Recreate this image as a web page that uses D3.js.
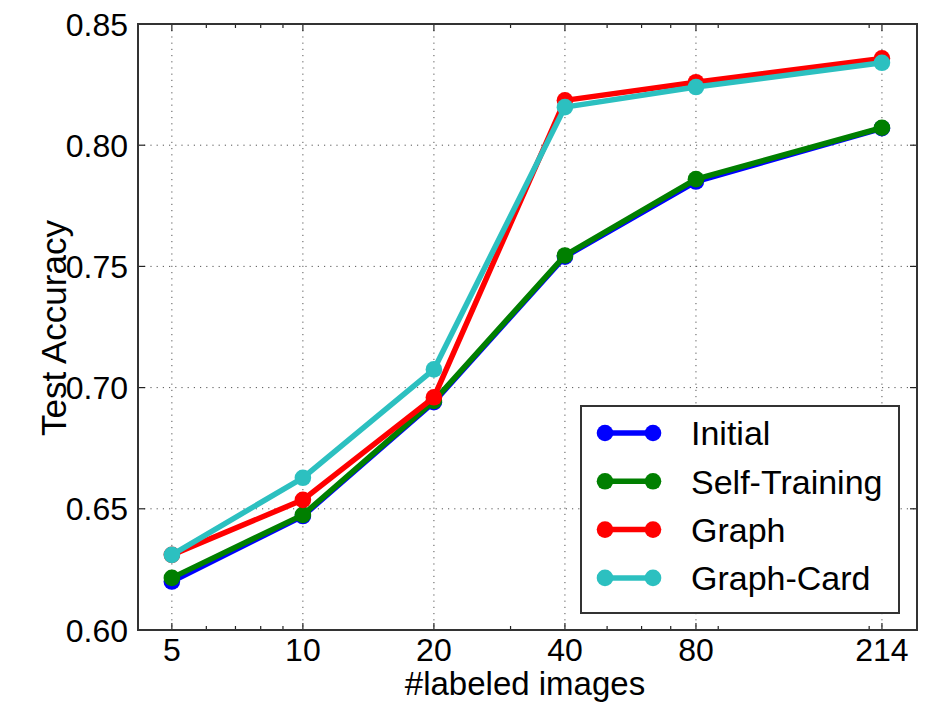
<!DOCTYPE html>
<html>
<head>
<meta charset="utf-8">
<script src="https://cdn.jsdelivr.net/npm/d3@7"></script>
<style>
body { margin: 0; background: #fff; }
text { font-family: "Liberation Sans", Arial, Helvetica, sans-serif; fill: #000; }
</style>
</head>
<body>
<div id="chart"></div>
<script>
'use strict';

let labeled = [5, 10, 20, 40, 80, 214];
let minor_ticks = [6, 7, 8, 9, 30, 50, 60, 70, 90, 200];
let y_ticks = [0.60, 0.65, 0.70, 0.75, 0.80, 0.85];

let initial = [0.620, 0.647, 0.694, 0.754, 0.785, 0.807];
let self_training = [0.6215, 0.6475, 0.6945, 0.7545, 0.786, 0.8072];
let graph = [0.631, 0.6537, 0.696, 0.8185, 0.826, 0.8358];
let graph_card = [0.631, 0.6628, 0.7075, 0.8157, 0.824, 0.834];

let series = [
	{name: 'Initial', color: '#0000ff', values: initial},
	{name: 'Self-Training', color: '#007f00', values: self_training},
	{name: 'Graph', color: '#ff0000', values: graph},
	{name: 'Graph-Card', color: '#2cc0c0', values: graph_card},
];

let W = 927, H = 702;
let L = 138, R = 917, T = 24, B = 630;

let svg = d3.select('#chart')
	.append('svg')
		.attr('width', W)
		.attr('height', H)
	;

let x = d3.scaleLog().domain([4.18, 257.6]).range([L, R]);
let y = d3.scaleLinear().domain([0.60, 0.85]).range([B, T]);

// grid
let grid = svg.append('g').attr('stroke', '#555').attr('stroke-width', 1).attr('stroke-dasharray', '1.2,5');
for (let v of labeled) {
	grid.append('line').attr('x1', x(v)).attr('x2', x(v)).attr('y1', T).attr('y2', B);
}
for (let v of y_ticks.slice(1, -1)) {
	grid.append('line').attr('x1', L).attr('x2', R).attr('y1', y(v)).attr('y2', y(v));
}

// ticks, pointing inward on all four sides
let ticks = svg.append('g').attr('stroke', '#222').attr('stroke-width', 1.2);
for (let v of labeled) {
	ticks.append('line').attr('x1', x(v)).attr('x2', x(v)).attr('y1', B).attr('y2', B - 7);
	ticks.append('line').attr('x1', x(v)).attr('x2', x(v)).attr('y1', T).attr('y2', T + 7);
}
for (let v of minor_ticks) {
	ticks.append('line').attr('x1', x(v)).attr('x2', x(v)).attr('y1', B).attr('y2', B - 4);
	ticks.append('line').attr('x1', x(v)).attr('x2', x(v)).attr('y1', T).attr('y2', T + 4);
}
for (let v of y_ticks) {
	ticks.append('line').attr('x1', L).attr('x2', L + 7).attr('y1', y(v)).attr('y2', y(v));
	ticks.append('line').attr('x1', R).attr('x2', R - 7).attr('y1', y(v)).attr('y2', y(v));
}

// lines
let line = d3.line()
	.x((d, i) => x(labeled[i]))
	.y(d => y(d))
	;
for (let s of series) {
	let g = svg.append('g');
	g.append('path')
		.attr('d', line(s.values))
		.attr('fill', 'none')
		.attr('stroke', s.color)
		.attr('stroke-width', 5.5)
		.attr('stroke-linejoin', 'round')
		;
	g.selectAll('circle')
		.data(s.values)
		.join('circle')
			.attr('cx', (d, i) => x(labeled[i]))
			.attr('cy', d => y(d))
			.attr('r', 8.3)
			.attr('fill', s.color)
		;
}

// frame
svg.append('rect')
	.attr('x', L).attr('y', T)
	.attr('width', R - L).attr('height', B - T)
	.attr('fill', 'none')
	.attr('stroke', '#333')
	.attr('stroke-width', 2)
	;

// tick labels
svg.append('g')
	.selectAll('text')
	.data(y_ticks)
	.join('text')
		.attr('x', 128)
		.attr('y', d => y(d))
		.attr('dy', '0.36em')
		.attr('text-anchor', 'end')
		.attr('font-size', 32)
		.text(d => d.toFixed(2))
	;
svg.append('g')
	.selectAll('text')
	.data(labeled)
	.join('text')
		.attr('x', d => x(d))
		.attr('y', 661)
		.attr('text-anchor', 'middle')
		.attr('font-size', 32)
		.text(d => d)
	;

// axis titles
svg.append('text')
	.attr('x', 525)
	.attr('y', 695)
	.attr('text-anchor', 'middle')
	.attr('font-size', 33)
	.text('#labeled images')
	;
svg.append('text')
	.attr('transform', 'translate(66, 328) rotate(-90)')
	.attr('text-anchor', 'middle')
	.attr('font-size', 35)
	.text('Test Accuracy')
	;

// legend
let lg = svg.append('g');
lg.append('rect')
	.attr('x', 581).attr('y', 406)
	.attr('width', 318).attr('height', 207)
	.attr('fill', '#fff')
	.attr('stroke', '#333')
	.attr('stroke-width', 2)
	;
series.forEach(function(s, i) {
	let ly = 433 + i*48.3;
	lg.append('line')
		.attr('x1', 605).attr('x2', 653)
		.attr('y1', ly).attr('y2', ly)
		.attr('stroke', s.color)
		.attr('stroke-width', 5.5)
		;
	lg.append('circle').attr('cx', 605).attr('cy', ly).attr('r', 8.3).attr('fill', s.color);
	lg.append('circle').attr('cx', 653).attr('cy', ly).attr('r', 8.3).attr('fill', s.color);
	lg.append('text')
		.attr('x', 691)
		.attr('y', ly)
		.attr('dy', '0.36em')
		.attr('font-size', 34)
		.text(s.name)
		;
});
</script>
</body>
</html>
